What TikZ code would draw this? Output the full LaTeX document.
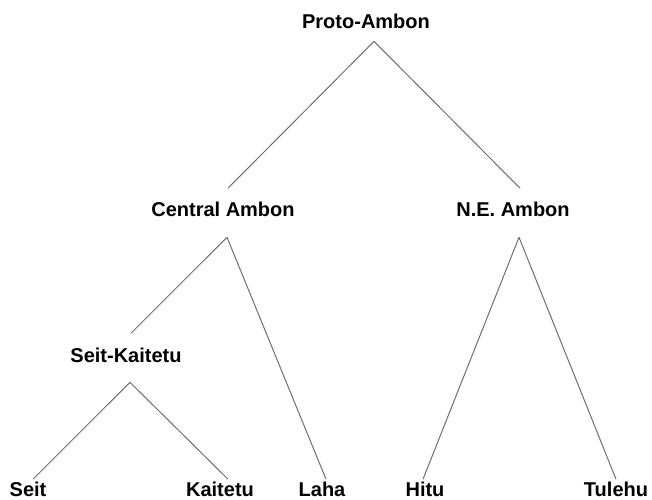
\documentclass[tikz,border=0pt]{standalone}
\usepackage{fontspec}
\setmainfont{Liberation Sans}
\usepackage{tikz}
\definecolor{edge_gray}{RGB}{110,110,110}

\begin{document}
\begin{tikzpicture}[x=1pt,y=-1pt,semithick]
    \tikzstyle{lang}=[font=\fontsize{20}{24}\bfseries\selectfont,text=black,inner sep=0pt,text depth=0pt,anchor=base]
    \tikzstyle{branch}=[draw=edge_gray,line width=1pt]
    \useasboundingbox (0,0) rectangle (652,499);

    \node[lang] (proto)   at (366,28)  {Proto-Ambon};
    \node[lang] (central) at (223,216) {Central Ambon};
    \node[lang] (ne)      at (513,216) {N.E. Ambon};
    \node[lang] (seitkai) at (126,362) {Seit-Kaitetu};
    \node[lang] (seit)    at (28,496)  {Seit};
    \node[lang] (kaitetu) at (220,496) {Kaitetu};
    \node[lang] (laha)    at (322,496) {Laha};
    \node[lang] (hitu)    at (425,496) {Hitu};
    \node[lang] (tulehu)  at (616,496) {Tulehu};

    \path[branch]
     ([shift={(8pt,-13pt)}]proto.south) edge ([shift={(5pt,13pt)}]central.north)
     ([shift={(8pt,-13pt)}]proto.south) edge ([shift={(7pt,13pt)}]ne.north)
     ([shift={(4pt,-21pt)}]central.south) edge ([shift={(5pt,14pt)}]seitkai.north)
     ([shift={(4pt,-21pt)}]central.south) edge ([shift={(4pt,2pt)}]laha.north)
     ([shift={(6pt,-21pt)}]ne.south) edge ([shift={(-2pt,2pt)}]hitu.north)
     ([shift={(6pt,-21pt)}]ne.south) edge ([shift={(0pt,2pt)}]tulehu.north)
     ([shift={(4pt,-20pt)}]seitkai.south) edge ([shift={(5pt,2pt)}]seit.north)
     ([shift={(4pt,-20pt)}]seitkai.south) edge ([shift={(8pt,2pt)}]kaitetu.north);
\end{tikzpicture}
\end{document}
